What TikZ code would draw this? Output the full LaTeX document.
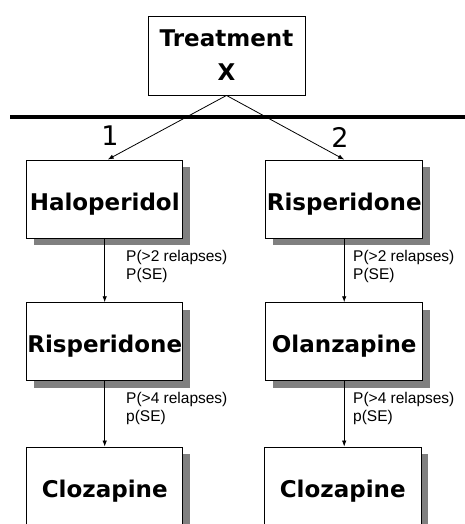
\documentclass[tikz,border=0pt]{standalone}
\usepackage{fontspec}
\setmainfont{DejaVu Sans}
\newfontfamily\lblfont{Liberation Sans}
\usetikzlibrary{arrows.meta,shadows}
\begin{document}
\begin{tikzpicture}[x=1pt,y=-1pt,
  box/.style={draw=black, line width=0.9pt, fill=white, minimum width=156pt,
    minimum height=78pt, inner sep=0pt, font=\fontsize{23}{34}\selectfont\bfseries},
  oneline/.style={text height=25pt, text depth=3pt},
  shadowed/.style={drop shadow={shadow xshift=7pt, shadow yshift=-7pt, fill=gray, opacity=1}},
  conn/.style={draw=black, line width=0.8pt, -{Latex[length=6pt,width=4.5pt]}},
  prob/.style={anchor=north west, inner sep=0pt, align=left,
    font=\lblfont\fontsize{15.5}{18.5}\selectfont},
  branch/.style={inner sep=0pt, font=\fontsize{27}{30}\selectfont}
]
\useasboundingbox (0,0) rectangle (465,524);
\clip (0,0) rectangle (465,524);
\fill[white] (0,0) rectangle (465,524);

\node[box, minimum width=157pt, minimum height=79pt, align=center] (T) at (226.5,55.5) {\raisebox{-2pt}{Treatment}\\\raisebox{-2pt}{X}};
\draw[line width=3.5pt] (10,117) -- (470,117);

\node[box, oneline, shadowed] (H)  at (104.7,199) {Haloperidol};
\node[box, oneline, shadowed, minimum width=157pt] (R1) at (344.2,199) {Risperidone};
\node[box, oneline, shadowed] (R2) at (104.7,341.7) {Risperidone};
\node[box, oneline, shadowed, minimum width=157pt] (O)  at (344.2,341.7) {Olanzapine};
\node[box, oneline, shadowed] (C1) at (104.7,486) {Clozapine};
\node[box, oneline, shadowed, minimum width=157pt] (C2) at (342.7,486) {Clozapine};

\draw[conn] (T.south) -- ([xshift=3pt]H.north);
\draw[conn] (T.south) -- (R1.north);
\draw[conn] (H.south) -- (R2.north);
\draw[conn] (R1.south) -- (O.north);
\draw[conn] (R2.south) -- (C1.north);
\draw[conn] (O.south) -- (O.south |- C2.north);

\node[branch] (b1) at (110,136) {1};
\node[branch] (b2) at (340,137) {2};

\node[prob] (p1) at (126,250) {P(>2 relapses)\\P(SE)};
\node[prob] (p2) at (353,250) {P(>2 relapses)\\P(SE)};
\node[prob] (p3) at (126,392) {P(>4 relapses)\\p(SE)};
\node[prob] (p4) at (353,392) {P(>4 relapses)\\p(SE)};
\end{tikzpicture}
\end{document}
